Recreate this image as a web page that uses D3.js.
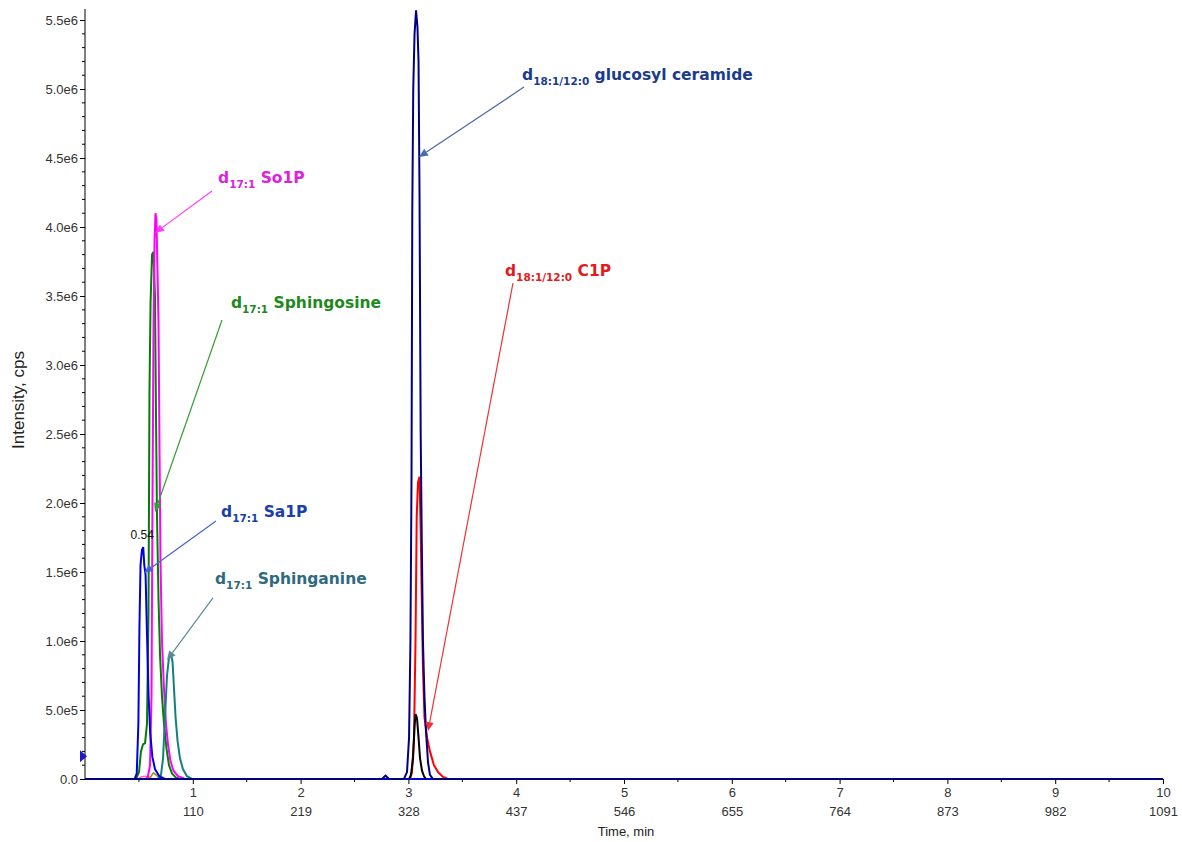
<!DOCTYPE html>
<html>
<head>
<meta charset="utf-8">
<script src="https://cdn.jsdelivr.net/npm/d3@7"></script>
<style>
  html, body { margin: 0; padding: 0; background: #ffffff; }
  svg { display: block; font-family: "Liberation Sans", Arial, sans-serif; }
</style>
</head>
<body>
<svg id="chart" width="1182" height="842"></svg>
<script>
// ---------------- DATA ----------------
const xMinuteTicks = [1, 2, 3, 4, 5, 6, 7, 8, 9, 10];
const xScanLabels = ["110", "219", "328", "437", "546", "655", "764", "873", "982", "1091"];
const yTickValues = [0, 0.5e6, 1.0e6, 1.5e6, 2.0e6, 2.5e6, 3.0e6, 3.5e6, 4.0e6, 4.5e6, 5.0e6, 5.5e6];
const yTickLabels = ["0.0", "5.0e5", "1.0e6", "1.5e6", "2.0e6", "2.5e6", "3.0e6", "3.5e6", "4.0e6", "4.5e6", "5.0e6", "5.5e6"];

// d17:1 Sa1P (blue)
const sa1pTime = [0, 0.46, 0.48, 0.495, 0.505, 0.515, 0.528, 0.54, 0.55, 0.562, 0.575, 0.59, 0.605, 0.625, 0.65, 0.69, 0.74, 10];
const sa1pInt  = [0, 0, 0.04e6, 0.4e6, 1.1e6, 1.55e6, 1.66e6, 1.68e6, 1.55e6, 1.48e6, 1.05e6, 0.6e6, 0.33e6, 0.16e6, 0.07e6, 0.02e6, 0, 0];

// d17:1 Sphingosine (green)
const sphTime = [0.473, 0.501, 0.519, 0.538, 0.557, 0.575, 0.589, 0.598, 0.608, 0.622, 0.635, 0.649, 0.659, 0.668, 0.682, 0.696, 0.714, 0.733, 0.756, 0.779, 0.807, 0.844, 0.881];
const sphInt  = [0, 0.05e6, 0.2e6, 0.25e6, 0.26e6, 0.4e6, 1.2e6, 2.8e6, 3.45e6, 3.8e6, 3.82e6, 3.5e6, 2.6e6, 1.9e6, 1.3e6, 0.9e6, 0.6e6, 0.4e6, 0.22e6, 0.1e6, 0.04e6, 0.01e6, 0];

// d17:1 So1P (magenta)
const so1pTime = [0.566, 0.584, 0.603, 0.617, 0.626, 0.635, 0.645, 0.654, 0.663, 0.672, 0.682, 0.691, 0.700, 0.714, 0.733, 0.751, 0.770, 0.793, 0.821, 0.863, 0.928];
const so1pInt  = [0, 0.02e6, 0.1e6, 0.6e6, 2.0e6, 3.2e6, 3.9e6, 4.1e6, 4.05e6, 3.7e6, 3.3e6, 2.4e6, 1.6e6, 1.0e6, 0.65e6, 0.4e6, 0.25e6, 0.13e6, 0.06e6, 0.02e6, 0];

// d17:1 Sphinganine (teal)
const sphaTime = [0.677, 0.705, 0.724, 0.742, 0.761, 0.779, 0.798, 0.812, 0.826, 0.840, 0.858, 0.881, 0.909, 0.946, 0.993];
const sphaInt  = [0, 0.03e6, 0.15e6, 0.45e6, 0.75e6, 0.88e6, 0.9e6, 0.85e6, 0.65e6, 0.45e6, 0.28e6, 0.15e6, 0.07e6, 0.02e6, 0];

// minor traces near the early peaks
const oliveTime = [0.584, 0.612, 0.635, 0.659, 0.686, 0.714];
const oliveInt  = [0, 0.02e6, 0.045e6, 0.03e6, 0.01e6, 0];
const pinkTime  = [0.492, 0.519, 0.557, 0.603, 0.631];
const pinkInt   = [0, 0.015e6, 0.02e6, 0.01e6, 0];

// d18:1/12:0 glucosyl ceramide (navy)
const glcTime = [0, 2.755, 2.774, 2.788, 2.801, 2.820, 2.959, 2.987, 3.006, 3.019, 3.029, 3.036, 3.045, 3.057, 3.071, 3.084, 3.094, 3.103, 3.114, 3.123, 3.135, 3.149, 3.163, 3.182, 3.200, 3.228, 10];
const glcInt  = [0, 0, 0.015e6, 0.025e6, 0.015e6, 0, 0, 0.05e6, 0.3e6, 1.0e6, 2.2e6, 4.1e6, 5.0e6, 5.4e6, 5.57e6, 5.45e6, 5.2e6, 4.25e6, 2.5e6, 1.8e6, 1.0e6, 0.6e6, 0.35e6, 0.12e6, 0.03e6, 0, 0];

// d18:1/12:0 C1P (red)
const c1pTime = [3.015, 3.033, 3.052, 3.066, 3.077, 3.089, 3.103, 3.114, 3.122, 3.135, 3.149, 3.173, 3.200, 3.237, 3.275, 3.321, 3.367];
const c1pInt  = [0, 0.05e6, 0.3e6, 1.0e6, 1.9e6, 2.15e6, 2.19e6, 1.8e6, 1.4e6, 0.8e6, 0.45e6, 0.3e6, 0.2e6, 0.1e6, 0.05e6, 0.015e6, 0];

// unlabelled black trace
const blackTime = [3.006, 3.024, 3.043, 3.057, 3.066, 3.080, 3.094, 3.108, 3.126, 3.145, 3.163];
const blackInt  = [0, 0.03e6, 0.15e6, 0.38e6, 0.47e6, 0.44e6, 0.3e6, 0.15e6, 0.06e6, 0.02e6, 0];

// ---------------- CHART ----------------
const svg = d3.select("#chart");
const x = d3.scaleLinear().domain([0, 10]).range([85, 1163]);
const y = d3.scaleLinear().domain([0, 5.58e6]).range([779, 9]);

const zip = (t, v) => t.map((d, i) => [d, v[i]]);
const line = d3.line().x(d => x(d[0])).y(d => y(d[1]));

const series = [
  { data: zip(pinkTime, pinkInt), color: "#ff66cc", w: 1.5 },
  { data: zip(oliveTime, oliveInt), color: "#a08a20", w: 1.5 },
  { data: zip(sphTime, sphInt), color: "#008000", w: 2 },
  { data: zip(so1pTime, so1pInt), color: "#ff00ff", w: 2 },
  { data: zip(sphaTime, sphaInt), color: "#138080", w: 2 },
  { data: zip(sa1pTime, sa1pInt), color: "#0000dd", w: 2 },
  { data: zip(c1pTime, c1pInt), color: "#ff0000", w: 2 },
  { data: zip(blackTime, blackInt), color: "#000000", w: 2 },
  { data: zip(glcTime, glcInt), color: "#000080", w: 2 }
];

// axes
const yAxis = d3.axisLeft(y).tickValues(yTickValues).tickFormat((d, i) => yTickLabels[i]).tickSize(5).tickSizeOuter(0);
const gy = svg.append("g").attr("transform", "translate(85,0)").call(yAxis);
gy.select(".domain").attr("stroke", "#000").attr("d", `M0,${y(0)}V${y.range()[1]}`);
gy.selectAll(".tick line").attr("stroke", "#000");
gy.selectAll(".tick text").attr("fill", "#333").attr("font-size", 13).attr("x", -7);

// y minor ticks
const yMinor = d3.range(0, 5.58e6, 1e5).filter(v => Math.round(v / 1e5) % 5 !== 0);
svg.append("g").selectAll("line").data(yMinor).join("line")
  .attr("x1", 82).attr("x2", 85).attr("y1", d => y(d)).attr("y2", d => y(d))
  .attr("stroke", "#000").attr("stroke-width", 1);

// x axis
const xAxis = d3.axisBottom(x).tickValues(xMinuteTicks).tickFormat(d3.format("d")).tickSize(5).tickSizeOuter(0);
const gx = svg.append("g").attr("transform", `translate(0,${y(0)})`).call(xAxis);
gx.select(".domain").attr("stroke", "#2a2a9a");
gx.selectAll(".tick line").attr("stroke", "#000");
gx.selectAll(".tick text").attr("fill", "#333").attr("font-size", 13).attr("y", 9).attr("dy", "0.71em");
gx.selectAll(".tick").append("text")
  .attr("y", 28).attr("dy", "0.71em").attr("fill", "#333").attr("font-size", 13)
  .attr("text-anchor", "middle")
  .text((d, i) => xScanLabels[i]);
// x minor ticks (half minutes)
svg.append("g").selectAll("line").data(d3.range(0.5, 10, 1)).join("line")
  .attr("x1", d => x(d)).attr("x2", d => x(d)).attr("y1", y(0)).attr("y2", y(0) + 3)
  .attr("stroke", "#000");

// axis titles
svg.append("text").attr("x", 626).attr("y", 836).attr("text-anchor", "middle")
  .attr("font-size", 13).attr("fill", "#222").text("Time, min");
svg.append("text").attr("transform", "translate(24,400) rotate(-90)").attr("text-anchor", "middle")
  .attr("font-size", 17).attr("fill", "#222").text("Intensity, cps");

// traces
svg.append("g").selectAll("path").data(series).join("path")
  .attr("d", d => line(d.data))
  .attr("fill", "none")
  .attr("stroke", d => d.color)
  .attr("stroke-width", d => d.w)
  .attr("stroke-linejoin", "miter");

// retention time label
svg.append("text").attr("x", x(0.54) - 1).attr("y", y(1.72e6) - 3).attr("text-anchor", "middle")
  .attr("font-size", 12).attr("fill", "#111").text("0.54");

// baseline marker on the left axis
const my = y(0.165e6);
svg.append("path").attr("d", `M80,${my - 6}L87,${my}L80,${my + 6}Z`).attr("fill", "#1a1acc");

// annotations (data coordinates)
const annotations = [
  { pre: "d", sub: "17:1", post: " So1P", color: "#dd22dd", arrow: "#ff3cff", text: [1.234, 4.319e6], tail: [1.178, 4.261e6], tip: [0.649, 3.957e6] },
  { pre: "d", sub: "17:1", post: " Sphingosine", color: "#1e8a1e", arrow: "#33a033", text: [1.354, 3.413e6], tail: [1.271, 3.326e6], tip: [0.649, 1.935e6] },
  { pre: "d", sub: "17:1", post: " Sa1P", color: "#1a3faa", arrow: "#4466cc", text: [1.262, 1.899e6], tail: [1.215, 1.870e6], tip: [0.547, 1.493e6] },
  { pre: "d", sub: "17:1", post: " Sphinganine", color: "#2e6b7e", arrow: "#5a8a9a", text: [1.206, 1.413e6], tail: [1.187, 1.312e6], tip: [0.761, 0.862e6] },
  { pre: "d", sub: "18:1/12:0", post: " glucosyl ceramide", color: "#1b3c8c", arrow: "#4a6aaa", text: [4.054, 5.065e6], tail: [4.072, 5.014e6], tip: [3.098, 4.507e6] },
  { pre: "d", sub: "18:1/12:0", post: " C1P", color: "#e31b1b", arrow: "#ee3333", text: [3.896, 3.645e6], tail: [3.970, 3.594e6], tip: [3.182, 0.348e6] }
];

const ag = svg.append("g");
annotations.forEach(a => {
  const x1 = x(a.tail[0]), y1 = y(a.tail[1]);
  const x2 = x(a.tip[0]), y2 = y(a.tip[1]);
  const ang = Math.atan2(y2 - y1, x2 - x1);
  const L = 9, W = 4;
  const bx = x2 - L * Math.cos(ang), by = y2 - L * Math.sin(ang);
  ag.append("line").attr("x1", x1).attr("y1", y1).attr("x2", bx).attr("y2", by)
    .attr("stroke", a.arrow).attr("stroke-width", 1.2);
  ag.append("path")
    .attr("d", `M${x2},${y2}L${bx + W * Math.sin(ang)},${by - W * Math.cos(ang)}L${bx - W * Math.sin(ang)},${by + W * Math.cos(ang)}Z`)
    .attr("fill", a.arrow);
  const t = ag.append("text").attr("x", x(a.text[0])).attr("y", y(a.text[1]))
    .attr("fill", a.color).attr("font-weight", "bold").attr("font-size", 15.5)
    .attr("font-family", "'DejaVu Sans', Verdana, sans-serif");
  t.append("tspan").text(a.pre);
  t.append("tspan").attr("font-size", 10.5).attr("dy", 5).text(a.sub);
  t.append("tspan").attr("dy", -5).text(a.post);
});
</script>
</body>
</html>
